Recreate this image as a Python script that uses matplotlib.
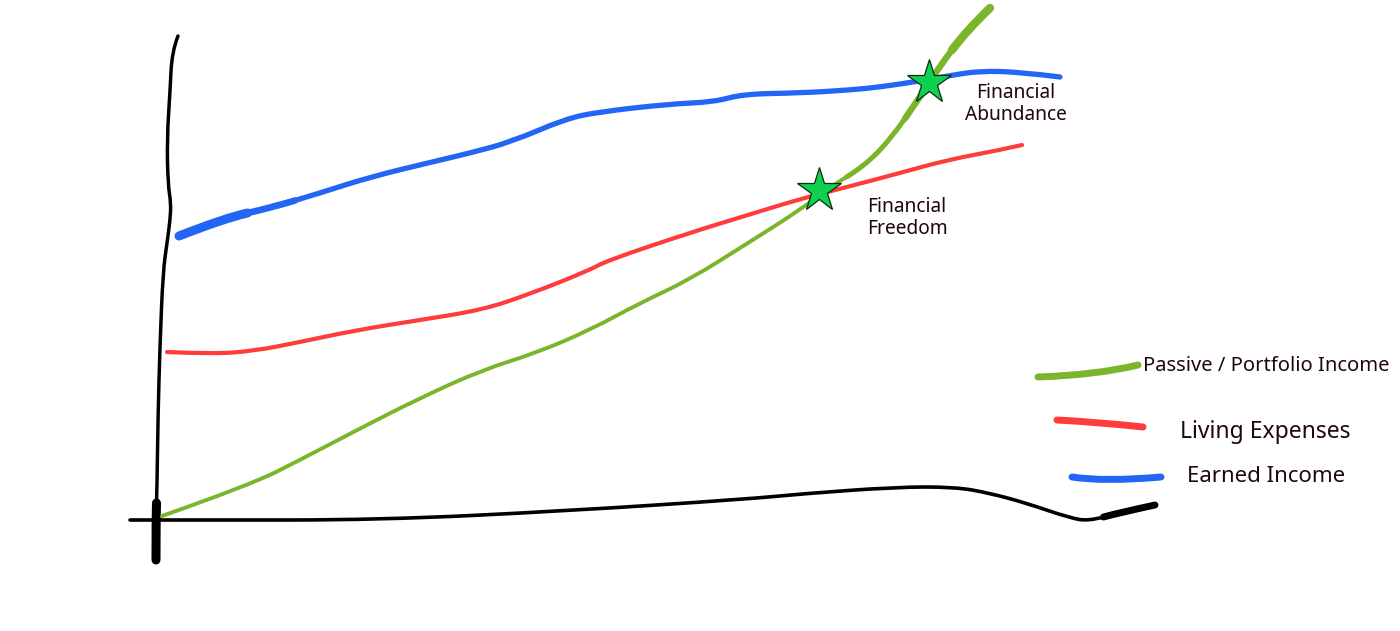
import matplotlib
matplotlib.use("Agg")
import matplotlib.pyplot as plt
from matplotlib.path import Path
from matplotlib.patches import PathPatch

plt.rcParams['font.family'] = ['Noto Sans', 'DejaVu Sans']

# --- data (sketch units: x = time, y = level) ---
earned_x = [179, 225, 270, 320, 370, 432, 470, 511, 565, 598, 669, 714, 743, 800, 850, 880, 920, 953, 980, 1020, 1060]
earned_y = [236, 218, 208, 193, 177, 162, 153, 142, 119, 112, 104, 102, 94, 93, 90, 87, 81, 75, 71, 72, 77]

expenses_x = [167, 212, 254, 300, 357, 420, 482, 530, 590, 606, 689, 748, 800, 847, 900, 947, 1000, 1022]
expenses_y = [352, 354, 351, 342, 330, 320, 310, 294, 270, 261, 233, 215, 199, 187, 173, 160, 150, 145]

passive_x = [162, 250, 300, 357, 420, 482, 536, 590, 640, 689, 748, 800, 830, 863, 890, 920, 937, 967, 990]
passive_y = [516, 485, 460, 430, 398, 370, 353, 330, 303, 280, 243, 210, 187, 167, 140, 97, 70, 30, 8]

xaxis_x = [130, 200, 378, 565, 748, 800, 896, 955, 989, 1026, 1070, 1089, 1118, 1155]
xaxis_y = [520, 520, 520, 511, 499, 494, 487, 487, 493, 503, 518, 521, 513, 505]

yaxis_x = [178, 172, 170, 167, 168, 171, 170, 167, 163, 160, 158, 157, 156, 156]
yaxis_y = [36, 51, 92, 139, 185, 203, 221, 243, 272, 344, 416, 488, 518, 560]

milestone_x = [819, 929]
milestone_y = [190, 82]
milestone_labels = ["Financial\nFreedom", "Financial\nAbundance"]
label_x = [907, 1016]
label_y = [218, 104]

legend_labels = ["Passive / Portfolio Income", "Living Expenses", "Earned Income"]
legend_stroke_x = [[1038, 1097, 1138], [1057, 1097, 1143], [1072, 1104, 1161]]
legend_stroke_y = [[377, 375, 365], [420, 422, 427], [477, 482, 477]]
legend_text_x = [1143, 1180, 1187]
legend_text_y = [366, 432, 476]
legend_fontsize = [14.5, 16.5, 16]

GREEN = '#7ab52a'
RED = '#ff3b3b'
BLUE = '#2366f5'
TEXT = '#1e0808'

fig = plt.figure(figsize=(14, 6.31), dpi=100)
ax = fig.add_axes([0, 0, 1, 1])
ax.set_xlim(0, 1400)
ax.set_ylim(631, 0)
ax.axis('off')


def smooth_stroke(xs, ys, color, lw, first=None, last=None, zorder=2):
    """Draw a hand-drawn looking stroke through the points as a quadratic
    B-spline path (matplotlib CURVE3 segments); optionally only segments
    first..last (1-based, counting interior control points)."""
    pts = list(zip(xs, ys))
    n = len(pts)
    if n < 3:
        verts, codes = pts, [Path.MOVETO] + [Path.LINETO] * (n - 1)
    else:
        mids = [((pts[i][0] + pts[i + 1][0]) / 2, (pts[i][1] + pts[i + 1][1]) / 2) for i in range(n - 1)]
        a = 1 if first is None else first
        b = n - 2 if last is None else last
        start = pts[0] if a == 1 else mids[a - 1]
        verts, codes = [start], [Path.MOVETO]
        for i in range(a, b + 1):
            end = pts[n - 1] if i == n - 2 else mids[i]
            verts += [pts[i], end]
            codes += [Path.CURVE3, Path.CURVE3]
    patch = PathPatch(Path(verts, codes), facecolor='none', edgecolor=color, lw=lw,
                      capstyle='round', joinstyle='round', zorder=zorder)
    ax.add_patch(patch)


# axes (hand drawn)
smooth_stroke(xaxis_x, xaxis_y, 'black', 2.6)
smooth_stroke(xaxis_x, xaxis_y, 'black', 5.0, first=len(xaxis_x) - 2)
smooth_stroke(yaxis_x, yaxis_y, 'black', 2.5)
smooth_stroke(yaxis_x, yaxis_y, 'black', 6.5, first=len(yaxis_x) - 2)

# series
smooth_stroke(passive_x, passive_y, GREEN, 2.8)
smooth_stroke(passive_x, passive_y, GREEN, 3.6, first=len(passive_x) - 6)
smooth_stroke(passive_x, passive_y, GREEN, 4.6, first=len(passive_x) - 4)
smooth_stroke(passive_x, passive_y, GREEN, 6.0, first=len(passive_x) - 2)
smooth_stroke(expenses_x, expenses_y, RED, 3.0)
smooth_stroke(earned_x, earned_y, BLUE, 3.8)
smooth_stroke(earned_x, earned_y, BLUE, 4.8, first=1, last=2)
smooth_stroke(earned_x, earned_y, BLUE, 6.5, first=1, last=1)

# milestones
ax.plot(milestone_x, milestone_y, linestyle='none', marker='*', markersize=33,
        markerfacecolor='#0fd150', markeredgecolor='#102a10', markeredgewidth=0.9, zorder=5)
for lx, ly, lab in zip(label_x, label_y, milestone_labels):
    ax.text(lx, ly, lab, ha='center', va='center', fontsize=13.8, color=TEXT,
            linespacing=1.08)

# legend (hand drawn)
for sx, sy, col in zip(legend_stroke_x, legend_stroke_y, [GREEN, RED, BLUE]):
    smooth_stroke(sx, sy, col, 5)
for tx, ty, lab, fs in zip(legend_text_x, legend_text_y, legend_labels, legend_fontsize):
    ax.text(tx, ty, lab, ha='left', va='center', fontsize=fs, color=TEXT)

fig.savefig('out.png', dpi=100, facecolor='white')
